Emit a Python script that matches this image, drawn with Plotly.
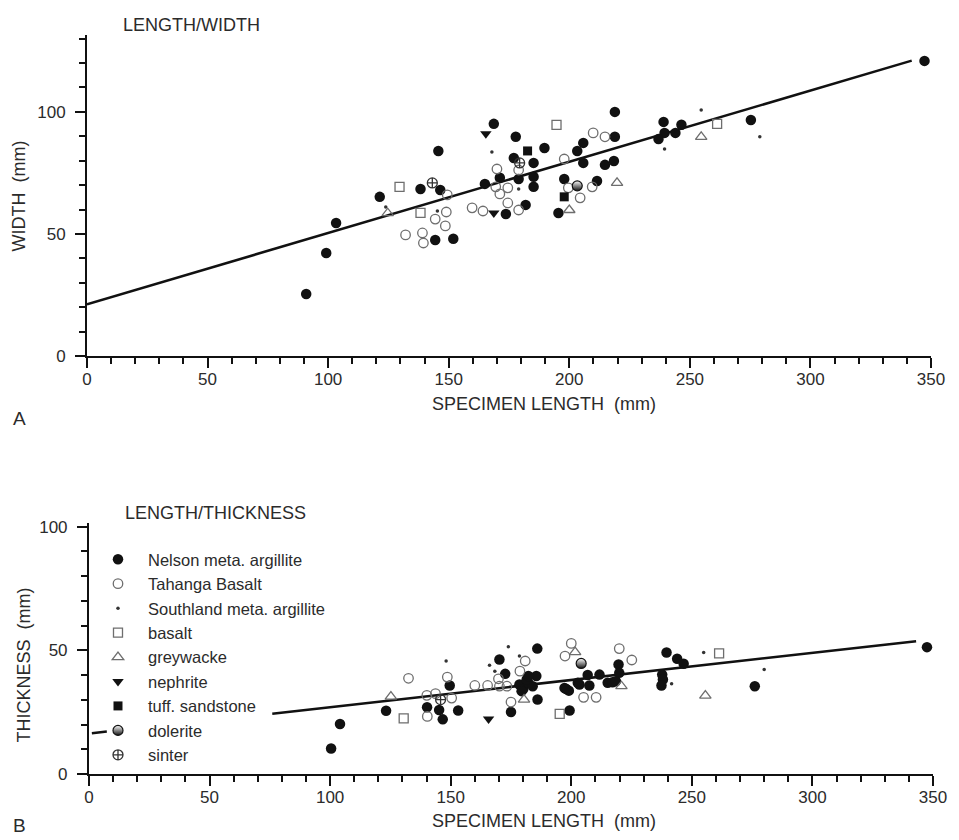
import plotly.graph_objects as go

# ---------------- data: panel A (length / width) ----------------
nelson_A_x = [90.9, 99.2, 103.3, 121.4, 138.3, 146.5, 145.7, 144.4, 151.9, 173.7, 181.9, 165.0, 171.2, 168.7,
              177.8, 177.0, 179.0, 185.2, 185.2, 185.2, 189.7, 197.9, 195.5, 203.3, 205.8, 205.8, 211.5, 218.9,
              218.9, 214.8, 218.5, 239.1, 239.5, 237.0, 244.0, 246.5, 275.3, 347.3]
nelson_A_y = [25.4, 42.2, 54.5, 65.2, 68.4, 68.0, 84.0, 47.5, 48.0, 58.2, 61.9, 70.5, 73.0, 95.1,
              89.8, 81.1, 72.5, 79.1, 73.4, 69.3, 85.2, 72.5, 58.6, 84.0, 87.3, 79.1, 71.7, 100.0,
              89.8, 78.3, 79.9, 95.9, 91.4, 88.9, 91.4, 94.7, 96.7, 120.9]
tahanga_A_x = [149.4, 149.0, 144.4, 148.6, 132.1, 139.1, 139.5, 159.7, 164.2, 179.0, 170.0, 169.5, 174.5,
               171.2, 174.5, 179.0, 197.9, 199.6, 204.5, 209.5, 209.9, 214.8]
tahanga_A_y = [66.0, 59.0, 56.1, 53.3, 49.6, 50.4, 46.3, 60.7, 59.4, 59.8, 76.6, 69.3, 68.9,
               66.4, 62.7, 76.2, 80.7, 68.9, 64.8, 69.3, 91.4, 89.8]
southland_A_x = [123.9, 145.3, 167.9, 179.0, 239.5, 254.7, 279.0]
southland_A_y = [61.0, 59.4, 83.6, 68.4, 84.8, 100.8, 89.8]
basalt_A_x = [129.6, 138.3, 194.7, 261.3]
basalt_A_y = [69.3, 58.6, 94.7, 95.1]
greywacke_A_x = [124.7, 200.0, 219.8, 254.7]
greywacke_A_y = [58.5, 59.8, 70.9, 89.8]
nephrite_A_x = [165.4, 168.7]
nephrite_A_y = [91.0, 58.6]
tuff_A_x = [182.7, 197.9]
tuff_A_y = [84.0, 65.2]
dolerite_A_x = [203.3]
dolerite_A_y = [69.7]
sinter_A_x = [143.2, 179.4]
sinter_A_y = [70.9, 79.1]
fit_A_x = [0, 342]
fit_A_y = [21.2, 121.0]

# ---------------- data: panel B (length / thickness) ----------------
nelson_B_x = [100.4, 104.1, 123.2, 140.2, 145.2, 146.7, 153.1, 149.6, 170.2, 172.6, 175.0, 185.9, 185.5, 186.0,
              178.5, 180.1, 182.2, 184.0, 181.5, 179.4, 182.2, 199.3, 206.8, 211.7, 202.7, 207.5, 197.9, 199.0,
              197.2, 203.4, 215.1, 217.1, 219.6, 219.9, 218.5, 239.5, 243.9, 246.6, 237.7, 238.0, 237.4, 276.1,
              347.5]
nelson_B_y = [10.3, 20.2, 25.6, 27.0, 25.9, 22.1, 25.7, 35.8, 46.3, 40.5, 25.1, 50.7, 39.6, 30.1,
              36.2, 34.4, 36.9, 35.5, 38.2, 33.5, 39.6, 25.7, 40.0, 40.2, 36.9, 35.8, 34.4, 33.7,
              34.8, 36.2, 36.9, 37.1, 44.3, 40.9, 37.5, 49.1, 46.6, 44.6, 40.2, 38.2, 35.8, 35.5,
              51.3]
tahanga_B_x = [132.5, 140.3, 140.1, 143.7, 148.6, 150.4, 160.0, 165.3, 169.8, 170.2, 173.3, 175.0, 180.9,
               178.7, 200.0, 197.4, 205.1, 210.3, 219.9, 225.1]
tahanga_B_y = [38.7, 23.3, 31.8, 32.5, 39.2, 30.7, 35.8, 35.8, 38.5, 35.5, 35.5, 29.1, 45.7,
               41.6, 52.8, 47.7, 31.0, 31.0, 50.7, 46.1]
southland_B_x = [148.1, 166.1, 173.9, 178.5, 168.3, 241.6, 254.9, 280.0]
southland_B_y = [45.7, 44.0, 51.5, 47.7, 41.5, 36.5, 49.1, 42.3]
basalt_B_x = [130.5, 195.2, 261.3]
basalt_B_y = [22.5, 24.3, 48.8]
greywacke_B_x = [125.2, 180.4, 201.6, 220.8, 255.6]
greywacke_B_y = [31.3, 30.1, 49.3, 35.5, 31.7]
nephrite_B_x = [165.7]
nephrite_B_y = [22.2]
tuff_B_x = []
tuff_B_y = []
dolerite_B_x = [204.1]
dolerite_B_y = [44.7]
sinter_B_x = [145.8]
sinter_B_y = [30.1]
fit_B_x = [1.2, 7.4, None, 76, 343]
fit_B_y = [16.5, 17.2, None, 24.4, 53.7]

categories = ["Nelson meta. argillite", "Tahanga Basalt", "Southland meta. argillite", "basalt",
              "greywacke", "nephrite", "tuff. sandstone", "dolerite", "sinter"]

# ---------------- styles ----------------
BLACK = "#111111"
GREY = "#6e6e6e"
styles = [
    dict(symbol="circle", size=10.5, color=BLACK, line=dict(width=0, color=BLACK)),
    dict(symbol="circle-open", size=9.5, color=GREY, line=dict(width=1.3, color=GREY)),
    dict(symbol="circle", size=3.5, color="#333333", line=dict(width=0, color="#333333")),
    dict(symbol="square-open", size=9, color=GREY, line=dict(width=1.3, color=GREY)),
    dict(symbol="triangle-up-open", size=10, color=GREY, line=dict(width=1.3, color=GREY)),
    dict(symbol="triangle-down", size=10, color=BLACK, line=dict(width=0, color=BLACK)),
    dict(symbol="square", size=9, color=BLACK, line=dict(width=0, color=BLACK)),
    dict(symbol="circle", size=10, color="white", line=dict(width=1.2, color=BLACK),
         gradient=dict(type="vertical", color=BLACK)),
    dict(symbol="circle-cross-open", size=10, color="#333333", line=dict(width=1.3, color="#333333")),
]

data_A = [(nelson_A_x, nelson_A_y), (tahanga_A_x, tahanga_A_y), (southland_A_x, southland_A_y),
          (basalt_A_x, basalt_A_y), (greywacke_A_x, greywacke_A_y), (nephrite_A_x, nephrite_A_y),
          (tuff_A_x, tuff_A_y), (dolerite_A_x, dolerite_A_y), (sinter_A_x, sinter_A_y)]
data_B = [(nelson_B_x, nelson_B_y), (tahanga_B_x, tahanga_B_y), (southland_B_x, southland_B_y),
          (basalt_B_x, basalt_B_y), (greywacke_B_x, greywacke_B_y), (nephrite_B_x, nephrite_B_y),
          (tuff_B_x, tuff_B_y), (dolerite_B_x, dolerite_B_y), (sinter_B_x, sinter_B_y)]

fig = go.Figure()

# regression lines
fig.add_trace(go.Scatter(x=fit_A_x, y=fit_A_y, mode="lines", line=dict(color=BLACK, width=2.5),
                         xaxis="x", yaxis="y", showlegend=False, hoverinfo="skip"))
fig.add_trace(go.Scatter(x=fit_B_x, y=fit_B_y, mode="lines", line=dict(color=BLACK, width=2.5),
                         xaxis="x2", yaxis="y2", showlegend=False, hoverinfo="skip", connectgaps=False))

for i, name in enumerate(categories):
    st = styles[i]
    (xa, ya) = data_A[i]
    (xb, yb) = data_B[i]
    fig.add_trace(go.Scatter(x=xa, y=ya, mode="markers", name=name, legendgroup=name,
                             marker=st, xaxis="x", yaxis="y", showlegend=True))
    fig.add_trace(go.Scatter(x=xb, y=yb, mode="markers", name=name, legendgroup=name,
                             marker=st, xaxis="x2", yaxis="y2", showlegend=False))

# the page body margin is removed by post_script, so the figure fills the window
W, H = 959, 840
ML, MT = 87, 35
PW, PH = 852, 739
MR, MB = W - ML - PW, H - MT - PH


def px_x(p):
    return (p - ML) / PW


def px_y(p):
    return (H - MB - p) / PH


FONT = "Liberation Sans, Arial, sans-serif"
TXT = "#2b2b2b"

axis_common = dict(
    showline=True, linecolor=BLACK, linewidth=2, mirror=False,
    ticks="outside", ticklen=10, tickwidth=2, tickcolor=BLACK,
    showgrid=False, zeroline=False,
    tickfont=dict(family=FONT, size=17, color=TXT),
    minor=dict(ticks="outside", dtick=10, ticklen=6, tickwidth=1.6, tickcolor=BLACK, showgrid=False),
)

fig.update_layout(
    width=W, height=H,
    margin=dict(l=ML, r=MR, t=MT, b=MB),
    paper_bgcolor="white", plot_bgcolor="white",
    font=dict(family=FONT, color=TXT, size=17),
    xaxis=dict(axis_common, range=[0, 350], dtick=50, tick0=0, domain=[0, 850 / PW], anchor="y",
               ticklabelstandoff=-3),
    yaxis=dict(axis_common, range=[0, 131.5], dtick=50, tick0=0, domain=[px_y(356), 1], anchor="x",
               ticklabelstandoff=6),
    xaxis2=dict(axis_common, range=[0, 350], dtick=50, tick0=0, domain=[2 / PW, 1], anchor="y2",
                ticklabelstandoff=-3),
    yaxis2=dict(axis_common, range=[0, 101.5], dtick=50, tick0=0, domain=[0, px_y(523)], anchor="x2",
                ticklabelstandoff=6),
    legend=dict(x=px_x(88), y=px_y(542), xanchor="left", yanchor="top",
                bgcolor="rgba(0,0,0,0)", borderwidth=0, itemwidth=50, tracegroupgap=0,
                font=dict(family=FONT, size=16.5, color=TXT)),
    showlegend=True,
)

ann = [
    dict(text="LENGTH/WIDTH", x=px_x(121), y=px_y(25), xanchor="left", yanchor="middle", size=18),
    dict(text="LENGTH/THICKNESS", x=px_x(123), y=px_y(513), xanchor="left", yanchor="middle", size=18),
    dict(text="SPECIMEN LENGTH  (mm)", x=px_x(547), y=px_y(404), xanchor="center", yanchor="middle", size=18),
    dict(text="SPECIMEN LENGTH  (mm)", x=px_x(547), y=px_y(821), xanchor="center", yanchor="middle", size=18),
    dict(text="A", x=px_x(19), y=px_y(418), xanchor="center", yanchor="middle", size=19),
    dict(text="B", x=px_x(19), y=px_y(825), xanchor="center", yanchor="middle", size=19),
]
for a in ann:
    fig.add_annotation(text=a["text"], x=a["x"], y=a["y"], xref="paper", yref="paper",
                       xanchor=a["xanchor"], yanchor=a["yanchor"], showarrow=False,
                       font=dict(family=FONT, size=a["size"], color=TXT))
fig.add_annotation(text="WIDTH  (mm)", x=px_x(19), y=px_y(196), xref="paper", yref="paper",
                   textangle=-90, showarrow=False, xanchor="center", yanchor="middle",
                   font=dict(family=FONT, size=18, color=TXT))
fig.add_annotation(text="THICKNESS  (mm)", x=px_x(24), y=px_y(665), xref="paper", yref="paper",
                   textangle=-90, showarrow=False, xanchor="center", yanchor="middle",
                   font=dict(family=FONT, size=18, color=TXT))

fig.write_html("out.html", config={"displayModeBar": False},
               post_script="document.body.style.margin='0px'; document.body.style.overflow='hidden';")
